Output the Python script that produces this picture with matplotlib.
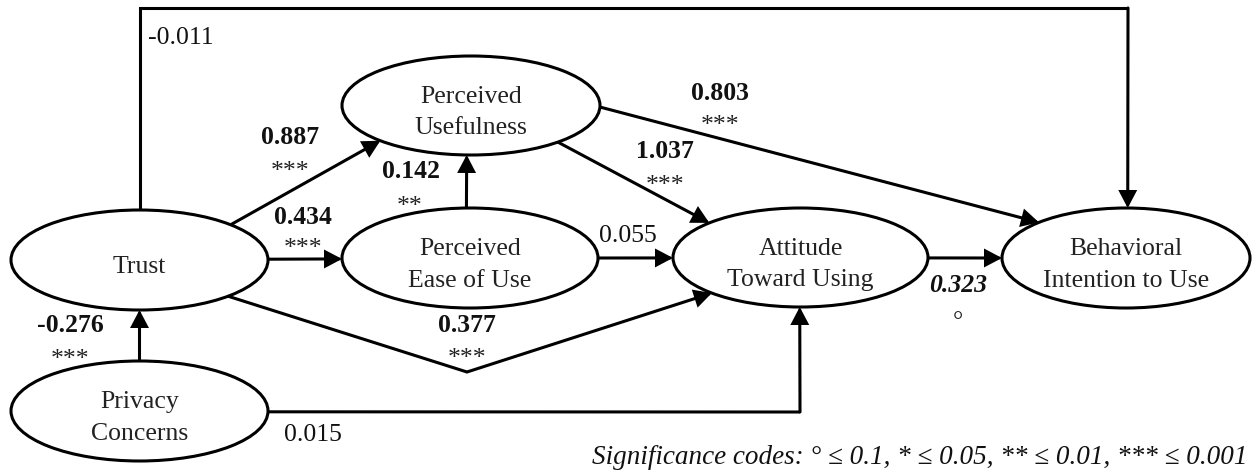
import numpy as np
import matplotlib
matplotlib.use("Agg")
import matplotlib.pyplot as plt
from matplotlib.patches import Ellipse

plt.rcParams['font.family'] = ['Liberation Serif', 'DejaVu Serif']

# --- data ---
nodes = ["Trust", "Privacy\nConcerns", "Perceived\nUsefulness",
         "Perceived\nEase of Use", "Attitude\nToward Using",
         "Behavioral\nIntention to Use"]
path_from = [0, 0, 0, 3, 2, 2, 3, 0, 1, 1, 4]
path_to = [5, 2, 3, 2, 4, 5, 4, 4, 0, 4, 5]
coef = [-0.011, 0.887, 0.434, 0.142, 1.037, 0.803, 0.055, 0.377, -0.276, 0.015, 0.323]
sig = ["", "***", "***", "**", "***", "***", "", "***", "***", "", "°"]
legend_text = "Significance codes: ° ≤ 0.1, * ≤ 0.05, ** ≤ 0.01, *** ≤ 0.001"

# --- layout (pixel coords) ---
node_xy = [(139.5, 260), (139.5, 411), (471, 105.5), (470, 258), (800.5, 257.5), (1126, 258)]
node_ab = [(128.5, 50), (128.5, 50), (129, 49.5), (128, 50), (127.5, 49.5), (124, 50)]

# approximate start/end points (snapped to ellipse), plus waypoints
routes = [
    [(139.5, 200), (139.5, 8), (1128, 8), (1128, 200)],
    [(230, 225), (377, 142)],
    [(300, 259), (330, 259)],
    [(468, 230), (468, 140)],
    [(560, 143), (707, 222)],
    [(597, 107), (1038, 222)],
    [(620, 258), (650, 258)],
    [(230, 297), (467, 372), (707, 295)],
    [(139.5, 380), (139.5, 290)],
    [(300, 412), (800, 412), (800, 290)],
    [(950, 258), (980, 258)],
]
label_xy = [(148, 38), (290, 138), (303, 217), (411, 172), (665, 152), (720, 93),
            (628, 236), (467, 325), (70, 325), (313, 435), (958, 285)]
star_xy = [None, (290, 172), (303, 249), (410, 207), (665, 186), (720, 126),
           None, (467, 359), (70, 360), None, (958, 322)]

LW = 2.2
FS = 18.5


def on_edge(i, p):
    cx, cy = node_xy[i]
    a, b = node_ab[i]
    dx, dy = p[0] - cx, p[1] - cy
    t = 1.0 / np.sqrt((dx / a) ** 2 + (dy / b) ** 2)
    return (cx + t * dx, cy + t * dy)


fig = plt.figure(figsize=(12.53, 4.75), dpi=100)
ax = fig.add_axes([0, 0, 1, 1])
ax.set_xlim(0, 1253)
ax.set_ylim(475, 0)
ax.axis("off")

for i, name in enumerate(nodes):
    (cx, cy), (a, b) = node_xy[i], node_ab[i]
    ax.add_patch(Ellipse((cx, cy), 2 * a, 2 * b, facecolor="white",
                         edgecolor="black", lw=LW, zorder=2))
    ax.text(cx, cy + 7, name, ha="center", va="center", fontsize=FS,
            linespacing=1.55, color="#222222", zorder=3)

for k in range(len(coef)):
    pts = list(routes[k])
    pts[0] = on_edge(path_from[k], pts[0])
    pts[-1] = on_edge(path_to[k], pts[-1])
    xs, ys = zip(*pts)
    if len(pts) > 2:
        ax.plot(xs[:-1], ys[:-1], color="black", lw=LW, solid_joinstyle="miter",
                solid_capstyle="butt", zorder=1)
    ax.annotate("", xy=pts[-1], xytext=pts[-2],
                arrowprops=dict(arrowstyle="-|>,head_length=0.95,head_width=0.5",
                                lw=LW, color="black", shrinkA=0, shrinkB=0,
                                mutation_scale=10, joinstyle="miter"),
                zorder=1)

    s = sig[k]
    if s == "":
        weight, style = "normal", "normal"
    elif s == "°":
        weight, style = "bold", "italic"
    else:
        weight, style = "bold", "normal"
    ha = "left" if k == 0 else "center"
    ax.text(label_xy[k][0], label_xy[k][1], f"{coef[k]:.3f}", ha=ha, va="center",
            fontsize=FS, fontweight=weight, fontstyle=style, color="#111111")
    if s:
        ax.text(star_xy[k][0], star_xy[k][1], s, ha="center", va="center",
                fontsize=FS, color="#222222")

ax.text(1248, 458, legend_text, ha="right", va="center", fontsize=19.5,
        fontstyle="italic", color="#111111")

fig.savefig("out.png", dpi=100)
